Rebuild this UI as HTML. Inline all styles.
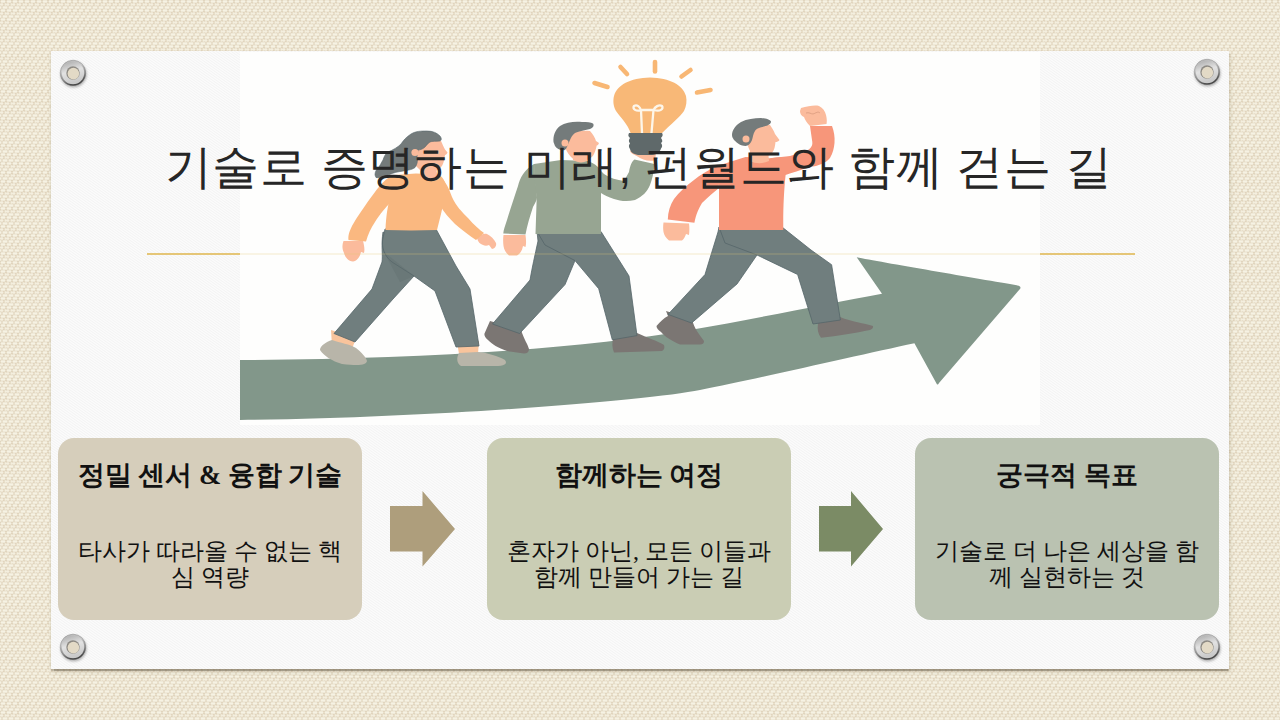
<!DOCTYPE html>
<html lang="ko">
<head>
<meta charset="utf-8">
<style>
html,body{margin:0;padding:0;}
body{width:1280px;height:720px;overflow:hidden;position:relative;background:#ebe1c9;font-family:"Liberation Sans",sans-serif;}
#panel{position:absolute;left:51px;top:51px;width:1178px;height:618px;background:#fbfbfb;
 box-shadow:0 1.5px 1px rgba(80,70,50,0.4), 1px 3px 4px rgba(90,70,40,0.18);
 background-image:repeating-linear-gradient(35deg, rgba(0,0,0,0) 0px, rgba(0,0,0,0.026) 0.7px, rgba(0,0,0,0.026) 1.0px, rgba(0,0,0,0) 1.7px, rgba(0,0,0,0) 2.15px);}
#imgbg{position:absolute;left:240px;top:52px;width:800px;height:373px;background:#fefefd;}
#line{position:absolute;left:147px;top:253px;width:988px;height:2px;background:#e5c677;}
#linein{position:absolute;left:240px;top:253px;width:800px;height:2px;background:rgba(229,198,119,0.18);}
#title{position:absolute;left:-1.5px;top:136.5px;width:1280px;text-align:center;font-size:47.4px;letter-spacing:0.35px;color:#262626;white-space:nowrap;line-height:60px;}
.box{position:absolute;top:438px;width:304px;height:182px;border-radius:16px;text-align:center;color:#111;font-family:"Liberation Serif",serif;}
.box h3{margin:0;position:absolute;left:0;right:0;top:22px;font-size:26.67px;font-weight:bold;line-height:30px;}
.box p{margin:0;position:absolute;left:0;right:0;top:100px;font-size:24px;line-height:26px;}
#b1{left:58px;background:#d6cebb;}
#b2{left:487px;background:#cacdb4;}
#b3{left:915px;background:#bac2b1;}
svg{position:absolute;left:0;top:0;}
</style>
</head>
<body>
<svg id="bgsvg" width="1280" height="720" style="position:absolute;left:0;top:0">
 <defs>
  <pattern id="weave" width="6" height="9" patternUnits="userSpaceOnUse">
   <rect width="6" height="9" fill="#ddcfb6"/>
   <rect x="0.5" y="0.25" width="5" height="2.5" rx="1" fill="#f6f2e3"/>
   <rect x="4.5" y="3.25" width="1.5" height="2.5" fill="#f4efdf"/><rect x="0" y="3.25" width="3.5" height="2.5" rx="1" fill="#f4efdf"/>
   <rect x="2.5" y="6.25" width="3.5" height="2.5" fill="#f6f2e3"/><rect x="0" y="6.25" width="1.5" height="2.5" fill="#f6f2e3"/>
  </pattern>
  <filter id="soft" x="0" y="0" width="1" height="1"><feGaussianBlur stdDeviation="0.45"/></filter>
 </defs>
 <rect width="1280" height="720" fill="url(#weave)" filter="url(#soft)"/>
</svg>
<div id="panel"></div>
<svg width="1280" height="720" style="position:absolute;left:0;top:0">
 <defs>
  <linearGradient id="gr1" x1="0" y1="0" x2="0.35" y2="1">
   <stop offset="0" stop-color="#b0b0b0"/><stop offset="0.4" stop-color="#cacaca"/><stop offset="0.75" stop-color="#8a8a8a"/><stop offset="1" stop-color="#444"/>
  </linearGradient>
  <linearGradient id="gr2" x1="0" y1="0" x2="0.3" y2="1">
   <stop offset="0" stop-color="#a9a9a9"/><stop offset="0.5" stop-color="#e2e2e2"/><stop offset="1" stop-color="#c9c9c9"/>
  </linearGradient>
  <filter id="gsh" x="-30%" y="-30%" width="160%" height="160%"><feDropShadow dx="0.6" dy="1.5" stdDeviation="1.2" flood-color="#000" flood-opacity="0.3"/></filter>

 </defs>
 <g transform="translate(73 73)">
   <circle r="12.8" fill="url(#gr1)" stroke="rgba(100,100,100,0.55)" stroke-width="0.6" filter="url(#gsh)"/>
   <circle r="11.2" fill="url(#gr2)"/>
   <circle r="6.7" fill="#8d8a84"/>
   <circle cx="0.4" cy="0.6" r="5.8" fill="#e3dac6"/>
   </g>
 <g transform="translate(1207 72)">
   <circle r="12.8" fill="url(#gr1)" stroke="rgba(100,100,100,0.55)" stroke-width="0.6" filter="url(#gsh)"/>
   <circle r="11.2" fill="url(#gr2)"/>
   <circle r="6.7" fill="#8d8a84"/>
   <circle cx="0.4" cy="0.6" r="5.8" fill="#e3dac6"/>
   </g>
 <g transform="translate(73 647)">
   <circle r="12.8" fill="url(#gr1)" stroke="rgba(100,100,100,0.55)" stroke-width="0.6" filter="url(#gsh)"/>
   <circle r="11.2" fill="url(#gr2)"/>
   <circle r="6.7" fill="#8d8a84"/>
   <circle cx="0.4" cy="0.6" r="5.8" fill="#e3dac6"/>
   </g>
 <g transform="translate(1207 647)">
   <circle r="12.8" fill="url(#gr1)" stroke="rgba(100,100,100,0.55)" stroke-width="0.6" filter="url(#gsh)"/>
   <circle r="11.2" fill="url(#gr2)"/>
   <circle r="6.7" fill="#8d8a84"/>
   <circle cx="0.4" cy="0.6" r="5.8" fill="#e3dac6"/>
   </g>
</svg>
<div id="line"></div>
<div id="imgbg"></div>

<svg id="ill" width="1280" height="720" viewBox="0 0 1280 720">
 <defs><clipPath id="cp"><rect x="240" y="52" width="800" height="373"/></clipPath></defs>
 <g clip-path="url(#cp)">
  <!-- big arrow -->
  <path fill="#82978a" d="M236 360.1 C420 359 580 349 690 330 C760 318 830 303 882 293.7 L856.7 257.3 C880 262 980 279 1018 285.5 C1021 286.5 1021 288 1019.5 289.5 L939 383 C938 385 937 385 936.5 383.5 L914.4 343.3 C860 355 760 378 700 390 C650 400 440 418 236 420.1 Z"/>

  <!-- ===== WOMAN ===== -->
  <g id="woman">
   <!-- ankles -->
   <path fill="#f9c49c" d="M331 330 L356 338 L352 349 L332 346 Z"/>
   <path fill="#f9c49c" d="M457 342 L479 341 L478 354 L459 354 Z"/>
   <!-- shoes -->
   <path fill="#b8b5a9" d="M332 340 C340 343 350 344 356 348 C362 353 366 357 367 361 C366 365 360 366 342 364 C332 361 324 356 320 350 C320 346 326 342 332 340 Z"/>
   <path fill="#b8b5a9" d="M459 353 L478 352 C488 353 498 356 505 360 C508 364 504 366 495 366 L461 366 C457 364 456 358 459 353 Z"/>
   <!-- back leg -->
   <path fill="#707e7e" stroke="#55666a" stroke-width="0.8" d="M383 232 C381 245 383 255 382 262 L372 289 L334 333.5 L355 342 L393 299 L414 276 L400 240 Z"/>
   <!-- front leg -->
   <path fill="#707e7e" stroke="#55666a" stroke-width="0.8" d="M385 229 L436 229 L456 266 L470 289 L479 346 L456 347 L435 291 L414 276 L392 262 C384 256 381 246 383 238 Z"/>
   <path fill="#5f6e6e" opacity="0.35" d="M384 252 L414 276 L400 282 Z"/>
   <!-- back (left) arm -->
   <path fill="#fab880" d="M394 175 C386 178 381 184 375 192 C366 204 357 217 352 226 C349 232 348 236 348.5 240 L366 241.6 C368 234 371 228 375 222 C380 214 386 207 390 203 Z"/>
   <!-- left hand -->
   <path fill="#fbbb9c" d="M343.5 241 L363 241 C364 245 365 249 364 253 L361 252 C360 257 357 261 353 261.5 C348 261 345 257 344 253 C342 249 342 245 343.5 241 Z"/>
   <!-- right hand -->
   <path fill="#fbbb9c" d="M477 238 C480 235 484 233 487 234 C491 236 494 239 496 243 C497 246 494 249 492 249 L489 245 C487 246 485 246 483 245 C480 244 478 242 477 238 Z"/>
   <!-- right (front) arm -->
   <path fill="#fab880" d="M438 176 C444 178 448 186 452 197 C456 206 462 212 468 218 C474 225 480 230 484 233 L476 240 C470 236 462 230 455 224 C449 218 444 212 441 207 Z"/>
   <!-- torso -->
   <path fill="#fab880" d="M394 175 L416 173.5 L439 174.6 C444 178 446 184 446 190 C445 200 442 208 441 214 L437 230 C420 230.5 402 230.5 385.5 230 C386 215 388 205 390 198 C388 190 389 182 394 175 Z"/>
   <!-- neck & face -->
   <path fill="#fbbb9c" d="M421 168 L421 178 C427 180 433 180 438 178 L436 168 Z"/>
   <path fill="#fbbb9c" d="M430 141 C434 140.5 438 140 441 141 C442.5 144 443.5 147 445 149.5 L447.5 152.5 C447 154 446 155 445 155 C444.5 158 444 162 442.5 165 C440.5 168.5 437 171 433 172 C428 173 423 172 420 170 L416 166 L418 150 C421 149 424 148 426 145 C427 143 428 141.5 430 141 Z"/>
   <!-- hair -->
   <path fill="#747b7b" stroke="#55666c" stroke-width="0.6" d="M375 175 C375 172 376 170 378 168 C380 166 381 163 383 160 C384 157 385 154 388 152 C393 150 398 147 401 144 C403 141 406 137 411 134 C416 131 421 131 427 131 C433 131 437 133 440 136 C441.5 138 442 140 440 141 C436 141.5 432 141 430 142 C428 143 427 145 425 147 C423 149 420 150 418 150 L417 157 C418 161 417 165 415 167.5 C412 170 406 170.5 400 171.5 C394 172.5 390 174 386 176 C382 177.5 378 178 376 177.5 Z"/>
   <circle cx="415" cy="152.5" r="3.6" fill="#fbbb9c"/>
  </g>

  <!-- ===== MIDDLE MAN ===== -->
  <g id="man1">
   <!-- shoes -->
   <path fill="#7b7673" d="M490 321 L521 330 C524 339 528 345 529 349 C529 352 527 353.5 524 353.5 L507 351 C498 348 492 344 488 340 C485 338 484 335 484.5 333.5 Z"/>
   <path fill="#7b7673" d="M612 335 L637 333 C648 338 658 341 664 345 C665 348 664 350 662 351 L614 352.5 C612 348 612 343 613 339 Z"/>
   <!-- back leg -->
   <path fill="#707e7e" stroke="#55666a" stroke-width="0.8" d="M537 231.5 L538 241 C535 255 532 268 530 280 L492.5 324 L519.6 333.5 L565 284.6 L575 260.6 L560 240 Z"/>
   <!-- front leg -->
   <path fill="#707e7e" stroke="#55666a" stroke-width="0.8" d="M537 231.5 L601 231.5 L629 276 L637 335.6 L612.3 339.8 L598.7 288.7 L575 260.6 L545 245 Z"/>
   <!-- back arm -->
   <path fill="#97a592" d="M534 164 C524 170 520 178 518 186 C514 198 510 210 507 220 C505 226 503.5 230 503.3 233.5 L525.5 234.5 C527 226 530 216 533 207 C535 203 537 200 537 197.5 Z"/>
   <!-- left hand -->
   <path fill="#fbbb9c" d="M503.5 235 L525.5 235 C526 239 526.5 243 525.5 247 L523 246 C522 251 520 254 517 255.5 L509 255.5 C506 253 504 250 503.5 246 C503 242 503 238 503.5 235 Z"/>
   <!-- torso -->
   <path fill="#97a592" d="M534 164 L561 160 L588 161 C596 164 600 168 601 172 C602 180 601.5 188 601 194 L601 234 L535.5 234 L536.7 197.8 C535 186 534 175 534 164 Z"/>
   <!-- raised arm -->
   <path fill="#97a592" d="M588 161 C595 165 600 170 604 174 C610 178 617 180 624 181 L629 172 C630 166 632 161 634.5 159.5 L654.5 164 C654 172 652 180 650 185 C647 192 643 196 635 200 C627 202 620 201 614 199 C608 197 604 195 601 193 Z"/>
   <!-- hand holding bulb -->
   <path fill="#fbbb9c" d="M630 151 C634 149 640 148 646 149 L655.5 153 C656 156 655.5 158 654.5 160.5 C648 161.5 642 160 636.7 156 C633 154.5 631 153 630 151 Z"/>
   <!-- neck, face -->
   <path fill="#fbbb9c" d="M572 152 L573 160 C578 163 583 163 587 161 L586 152 Z"/>
   <path fill="#fbbb9c" d="M568 134 C575 131 583 130 590 131 C593 134 595 138 596 141 L599 143 C598.5 145 597 145.5 596.7 145.5 C596 149 595 152 594 154 C592 158 588 160 583 161.5 C578 162 574 160 571 157 C567 153 565 148 564.5 143 C564.5 139 566 136 568 134 Z"/>
   <!-- hair -->
   <path fill="#747b7b" d="M553.5 142 C553 136 555 130 560 126 C566 122 574 121.5 582 122 C587 122 591 122 593 123.5 C594.5 125.5 593 128 590 129 C584 130.5 578 131.5 575 133 C572 135 571 138 570 140 C568 144 567 148 565 150 C561 151 557 149 555 146 Z"/>
   <circle cx="565" cy="143" r="3.5" fill="#fbbb9c"/>
  </g>

  <!-- ===== RIGHT MAN ===== -->
  <g id="man2">
   <!-- shoes -->
   <path fill="#7b7673" d="M666 311 L692 319 C694 329 700 335 704 341 C704 343 703 344.5 700 344.5 L680 344.5 C672 341 665 337 661 332 C658 330 656.5 328 656.5 326 C660 322 664 318 668 316 Z"/>
   <path fill="#7b7673" d="M816 320 L840 317 C852 322 864 323 873 326 C873.5 328 872 329 870 330 C856 333 838 336 821 337.7 C818 334 817 329 818 324 Z"/>
   <!-- back leg -->
   <path fill="#707e7e" stroke="#55666a" stroke-width="0.8" d="M719 227 L718 232 L705 274.5 L668 314.4 L691.6 323 L737 284 L757 255 L740 240 Z"/>
   <!-- front leg -->
   <path fill="#707e7e" stroke="#55666a" stroke-width="0.8" d="M719 227 L782 227 L811 250 L831.6 264.7 L840.4 320 L813 324 L797.6 274.5 L757 255 L725 243 Z"/>
   <!-- back arm -->
   <path fill="#f7967a" d="M717 166 C708 170 700 175 694 180 C686 186 679 192 674 199 C670 205 668 212 667.8 219.5 L694.4 222.8 C696 214 699 208 702 203 C708 197 714 192 719 188 Z"/>
   <!-- left hand -->
   <path fill="#fbbb9c" d="M663.5 222.5 L689 223.5 C689.5 227 689.5 231 689 235 L686 234 C685 237 684 239 682 240.5 L669 240.5 C666 238 664 235 663.5 232 C663 229 663 226 663.5 222.5 Z"/>
   <!-- torso -->
   <path fill="#f7967a" d="M717 166 L745.5 157 L770 158.3 L783 157 C786 163 787 170 785.5 176 C784 190 783 210 783.3 230 L719 230 L719 188 C717 180 716 172 717 166 Z"/>
   <!-- raised arm -->
   <path fill="#f7967a" d="M770 158.3 C778 157 785 157 790 156 C797 154 803 152 808 150 C812 147 813 145 812 140 L810 126 L832 126 C834 131 835 137 834.5 143 C834 148 833 153 830 158 C826 163 818 166 810 167 C800 170 792 173 785.5 175 Z"/>
   <!-- fist -->
   <path fill="#fbbb9c" d="M801 108 C808 106 815 105 819 106 C823 108 825 111 826 115 C827 119 827 122 826.5 124 L810 126 C807 123 805 120 804 117 C801 116 800 113 800 111 Z"/>
   <path fill="none" stroke="#d99a7e" stroke-width="0.8" d="M806 113 C809 112 811 114 813 114 C816 113 818 111 820 113"/>
   <!-- neck, face -->
   <path fill="#fbbb9c" d="M750 150 L750 161 C756 164 763 164 769 161 L768 150 Z"/>
   <path fill="#fbbb9c" d="M752 128 C758 125 765 124 770 125 C772 128 774 131 775 134 L779.5 140 C778.5 141.5 777 142 775.5 142 C775 146 774.5 150 772 153 C769 156 765 157.5 761 157.5 C756 157 752 154 749.5 150 C747.5 146 746.5 141 747 136 C748 132 750 130 752 128 Z"/>
   <!-- hair -->
   <path fill="#747b7b" d="M732 135 C732 130 736 125 741 122 C747 119 754 118 761 118 C766 118.5 770 119.5 771 121.5 C771 124 768 125.5 764 126.5 C760 127.5 756 128.5 755 131 C753 134 753 137 752 140 C751 143 748 146 745.5 146 C741 146 737 143 734 140 C733 138.5 732 137 732 135 Z"/>
   <circle cx="746" cy="139" r="3.5" fill="#fbbb9c"/>
  </g>

  <!-- ===== LIGHT BULB ===== -->
  <g id="bulb">
   <g stroke="#f8b774" stroke-width="4.6" stroke-linecap="round">
    <line x1="594.5" y1="83" x2="607.5" y2="87"/>
    <line x1="620.5" y1="67" x2="627" y2="74"/>
    <line x1="655" y1="62" x2="655" y2="71.5"/>
    <line x1="681.5" y1="76.5" x2="690.5" y2="70"/>
    <line x1="697" y1="92.5" x2="710.5" y2="90"/>
   </g>
   <path fill="#f8b877" d="M631 134 C628 124 620 117 616 111 C613 106 613 100 614 96 C617 85 630 78 650 77.5 C670 78 683 85 686 96 C687 101 686.5 106 684 111 C680 117 671 124 661 134 Z"/>
   <g fill="none" stroke="#fdf6ea" stroke-width="2.3" stroke-linecap="round">
    <path d="M642 133 L641 110 C640 107 637 104 634 106 C632 109 636 112 642 110 L654 110 C660 112 664 109 662 106 C659 104 655 107 653.5 110 L651.5 133"/>
   </g>
   <path fill="#5f696a" d="M629 133 L662 133 C663.5 135 662 137 661 138 C662.5 140 663 142 661 143 C662.5 145 662.5 147 661 148.5 C660 152 657 154.5 652 155 L638 155 C633 154 630.5 152 630 149 C628.5 147 628.5 145 630 143.5 C628.5 141.5 628.5 140 630 138 C628 136.5 628 135 629 133 Z"/>
  </g>
 </g>
</svg>

<div id="linein"></div>
<div id="title">기술로 증명하는 미래, 펀월드와 함께 걷는 길</div>

<div class="box" id="b1"><h3>정밀 센서 &amp; 융합 기술</h3><p>타사가 따라올 수 없는 핵<br>심 역량</p></div>
<div class="box" id="b2"><h3>함께하는 여정</h3><p>혼자가 아닌, 모든 이들과<br>함께 만들어 가는 길</p></div>
<div class="box" id="b3"><h3>궁극적 목표</h3><p>기술로 더 나은 세상을 함<br>께 실현하는 것</p></div>

<svg width="1280" height="720" viewBox="0 0 1280 720" style="pointer-events:none">
 <path fill="#ae9e7c" d="M390 506 L422.5 506 L422.5 491 L455 529 L422.5 566.5 L422.5 551.5 L390 551.5 Z"/>
 <path fill="#7b8b65" d="M819 506 L851 506 L851 491 L883 529 L851 566.5 L851 551.5 L819 551.5 Z"/>
</svg>
</body>
</html>
